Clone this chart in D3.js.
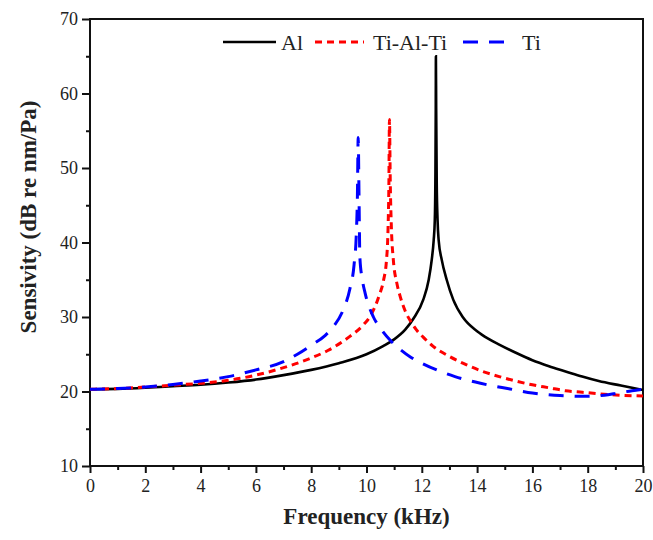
<!DOCTYPE html>
<html>
<head>
<meta charset="utf-8">
<script src="https://cdn.jsdelivr.net/npm/d3@7"></script>
<style>
  body { margin: 0; background: #fff; }
  svg text { font-family: "Liberation Serif", "Times New Roman", serif; fill: #222; }
</style>
</head>
<body>
<div id="chart"></div>
<script>
// data: [frequency kHz, sensitivity dB]
const alData = [
  [0, 20.3], [1, 20.35], [2, 20.5], [3, 20.7], [4, 20.9], [5, 21.2], [6, 21.6],
  [7, 22.2], [8, 22.9], [9, 23.8], [10, 25.0], [10.6, 26.1], [11.0, 27.0],
  [11.4, 28.3], [11.7, 29.8], [12.05, 32.3], [12.25, 35], [12.36, 37.7],
  [12.43, 40.3], [12.47, 43], [12.49, 48], [12.505, 58], [12.51, 65],
  [12.52, 58], [12.54, 48], [12.57, 43], [12.61, 40.3], [12.72, 37.7],
  [12.9, 35], [13.14, 32.3], [13.5, 29.9], [14.0, 28.1], [14.4, 27.1],
  [14.8, 26.3], [15.4, 25.2], [16.0, 24.2], [16.6, 23.4], [17.2, 22.7],
  [17.8, 22.0], [18.4, 21.4], [19.2, 20.8], [20, 20.2]
];
const tatData = [
  [0, 20.3], [1, 20.4], [2, 20.6], [3, 20.85], [4, 21.1], [5, 21.5], [6, 22.2],
  [7, 23.2], [8, 24.5], [8.6, 25.5], [9.4, 27.4], [9.9, 29.0], [10.15, 30.2],
  [10.45, 32.8], [10.62, 35], [10.72, 37.5], [10.78, 42], [10.81, 48],
  [10.83, 56.5], [10.86, 48], [10.9, 42], [10.97, 37.7], [11.1, 34.5],
  [11.2, 33], [11.4, 30.8], [11.6, 29.4], [11.8, 28.3], [12.05, 27.3],
  [12.4, 26.1], [13.0, 24.7], [13.6, 23.6], [14.2, 22.7], [14.8, 22.0],
  [15.4, 21.4], [16.0, 20.9], [16.6, 20.5], [17.2, 20.1], [17.8, 19.9],
  [18.4, 19.7], [19.2, 19.5], [20, 19.4]
];
const tiData = [
  [0, 20.3], [1, 20.4], [2, 20.6], [3, 20.95], [4, 21.4], [5, 22.0], [6, 22.9],
  [7, 24.0], [7.5, 25.0], [8.0, 26.2], [8.5, 27.5], [8.8, 28.7], [9.15, 30.9],
  [9.4, 33.8], [9.55, 37.0], [9.63, 41], [9.67, 46], [9.7, 54.1], [9.73, 46],
  [9.76, 38], [9.85, 35], [9.95, 33.2], [10.25, 30.0], [10.5, 28.5],
  [10.85, 26.9], [11.2, 25.7], [11.6, 24.6], [12.0, 23.8], [12.6, 22.8],
  [13.2, 22.0], [13.9, 21.3], [14.5, 20.8], [15.1, 20.4], [16.0, 19.8],
  [17.0, 19.45], [18.0, 19.35], [18.6, 19.5], [19.1, 19.8], [19.6, 20.1], [20, 20.3]
];

const seriesNames = ["Al", "Ti-Al-Ti", "Ti"];
const xTicks = [0, 2, 4, 6, 8, 10, 12, 14, 16, 18, 20];
const xMinor = [1, 3, 5, 7, 9, 11, 13, 15, 17, 19];
const yTicks = [10, 20, 30, 40, 50, 60, 70];
const yMinor = [15, 25, 35, 45, 55, 65];

const width = 653, height = 540;
const margin = { top: 19, right: 10, bottom: 74, left: 90 };

const svg = d3.select("#chart").append("svg")
  .attr("width", width)
  .attr("height", height);

const x = d3.scaleLinear().domain([0, 20]).range([margin.left, width - margin.right]);
const y = d3.scaleLinear().domain([10, 70]).range([height - margin.bottom, margin.top]);

// axes
svg.append("g")
  .attr("transform", `translate(0,${height - margin.bottom})`)
  .call(d3.axisBottom(x).tickValues(xTicks).tickSize(7).tickSizeOuter(0).tickPadding(6));
svg.append("g")
  .attr("transform", `translate(0,${height - margin.bottom})`)
  .call(d3.axisBottom(x).tickValues(xMinor).tickSize(4).tickFormat(""))
  .call(g => g.select(".domain").remove());

svg.append("g")
  .attr("transform", `translate(${margin.left},0)`)
  .call(d3.axisLeft(y).tickValues(yTicks).tickSize(8).tickSizeOuter(0).tickPadding(4));
svg.append("g")
  .attr("transform", `translate(${margin.left},0)`)
  .call(d3.axisLeft(y).tickValues(yMinor).tickSize(4).tickFormat(""))
  .call(g => g.select(".domain").remove());

svg.selectAll(".tick line").attr("stroke", "#111").attr("stroke-width", 2);
svg.selectAll(".domain").remove();
svg.selectAll(".tick text")
  .attr("font-size", 18)
  .attr("font-family", '"Liberation Serif", "Times New Roman", serif')
  .attr("fill", "#222");

// frame
svg.append("rect")
  .attr("x", x(0)).attr("y", y(70))
  .attr("width", x(20) - x(0)).attr("height", y(10) - y(70))
  .attr("fill", "none")
  .attr("stroke", "#111")
  .attr("stroke-width", 2);

// curves
const line = d3.line()
  .x(d => x(d[0]))
  .y(d => y(d[1]))
  .curve(d3.curveMonotoneX);

const styles = [
  { data: alData, color: "#000", dash: null, w: 2.6 },
  { data: tatData, color: "#ff0000", dash: "7,5", w: 3 },
  { data: tiData, color: "#0000ff", dash: "15,11", w: 3 }
];

svg.append("g").selectAll("path")
  .data(styles)
  .join("path")
  .attr("d", d => line(d.data))
  .attr("fill", "none")
  .attr("stroke", d => d.color)
  .attr("stroke-width", d => d.w)
  .attr("stroke-dasharray", d => d.dash);

// legend
const legendPos = [
  { x1: 223, x2: 276, tx: 281 },
  { x1: 315, x2: 364, tx: 373 },
  { x1: 463, x2: 510, tx: 522 }
];
const legend = svg.append("g");
styles.forEach((s, i) => {
  const p = legendPos[i];
  legend.append("line")
    .attr("x1", p.x1).attr("x2", p.x2)
    .attr("y1", 42).attr("y2", 42)
    .attr("stroke", s.color)
    .attr("stroke-width", s.w)
    .attr("stroke-dasharray", s.dash);
  legend.append("text")
    .attr("x", p.tx).attr("y", 50)
    .attr("font-size", 22)
    .text(seriesNames[i]);
});

// axis titles
svg.append("text")
  .attr("x", (x(0) + x(20)) / 2)
  .attr("y", 524)
  .attr("text-anchor", "middle")
  .attr("font-size", 23)
  .attr("font-weight", "bold")
  .text("Frequency (kHz)");

svg.append("text")
  .attr("transform", "translate(36,217) rotate(-90)")
  .attr("text-anchor", "middle")
  .attr("font-size", 23)
  .attr("font-weight", "bold")
  .text("Sensivity (dB re nm/Pa)");
</script>
</body>
</html>
